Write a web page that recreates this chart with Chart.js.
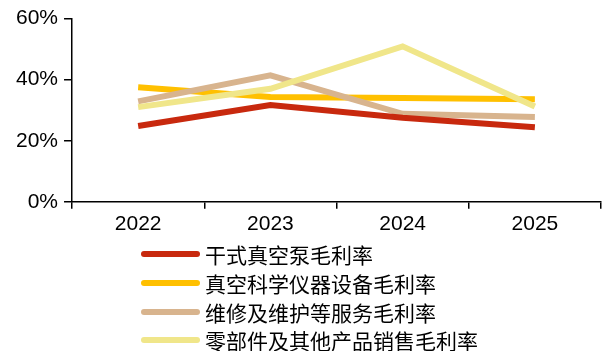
<!DOCTYPE html>
<html>
<head>
<meta charset="utf-8">
<script src="https://cdn.jsdelivr.net/npm/chart.js@4"></script>
<style>
  html, body { margin: 0; padding: 0; background: #fff; }
  #wrap { position: relative; width: 607px; height: 351px; }
  #legenda { position: absolute; left: 141px; top: 240px; font-family: "Noto Sans CJK SC", sans-serif; font-size: 21px; color: #000; }
  .item { height: 28.7px; display: flex; align-items: center; }
  .linha { width: 59px; height: 6px; border-radius: 3px; margin-right: 5px; }
</style>
</head>
<body>
<div id="wrap">
  <canvas id="grafico" width="607" height="351"></canvas>
  <div id="legenda"></div>
</div>
<script>
// anos e margens brutas (%)
var anos = ['2022', '2023', '2024', '2025']
var nomes = ['干式真空泵毛利率', '真空科学仪器设备毛利率', '维修及维护等服务毛利率', '零部件及其他产品销售毛利率']
var bombaSeca = [24.8, 31.7, 27.5, 24.4]
var instrumentos = [37.5, 34.3, 34.0, 33.6]
var servicos = [32.9, 41.4, 28.8, 27.8]
var pecas = [31.0, 37.0, 50.9, 31.2]
var cores = ['#C8290E', '#FFC000', '#D8B48E', '#F0E68A']
var ticksY = [0, 20, 40, 60]

var series = [bombaSeca, instrumentos, servicos, pecas]
var ordem = [1, 3, 2, 0]  // amarela por cima
var datasets = []
for (var i = 0; i < series.length; i++) {
    datasets.push({
        label: nomes[i],
        data: series[i],
        borderColor: cores[i],
        backgroundColor: cores[i],
        borderWidth: 6,
        pointRadius: 0,
        tension: 0,
        borderCapStyle: 'butt',
        order: ordem[i]
    })
}

const ctx = document.getElementById('grafico').getContext('2d')
const grafico = new Chart(ctx, {
    type: 'line',
    data: { labels: anos, datasets: datasets },
    options: {
        responsive: false,
        animation: false,
        layout: { padding: { top: 5, right: 6, bottom: 111, left: 10 } },
        plugins: { legend: { display: false }, tooltip: { enabled: false } },
        scales: {
            x: {
                offset: true,
                grid: { offset: true, drawOnChartArea: false, drawTicks: true, tickLength: 7, color: '#000', lineWidth: 1.5 },
                border: { color: '#000', width: 1.5 },
                ticks: { color: '#000', padding: 3, font: { family: 'Liberation Sans', size: 21 } }
            },
            y: {
                min: 0,
                max: 60,
                afterBuildTicks: function (eixo) { eixo.ticks = ticksY.map(function (v) { return { value: v } }) },
                grid: { drawOnChartArea: false, drawTicks: true, tickLength: 8, color: '#000', lineWidth: 1.5 },
                border: { color: '#000', width: 1.5 },
                ticks: { color: '#000', padding: 6, font: { family: 'Liberation Sans', size: 21 }, callback: function (v) { return v + '%' } }
            }
        }
    }
})

// legenda em html, uma série por linha
var legenda = document.getElementById('legenda')
for (var i = 0; i < nomes.length; i++) {
    var item = document.createElement('div')
    item.className = 'item'
    item.innerHTML = '<span class="linha" style="background:' + cores[i] + '"></span><span>' + nomes[i] + '</span>'
    legenda.appendChild(item)
}
</script>
</body>
</html>
